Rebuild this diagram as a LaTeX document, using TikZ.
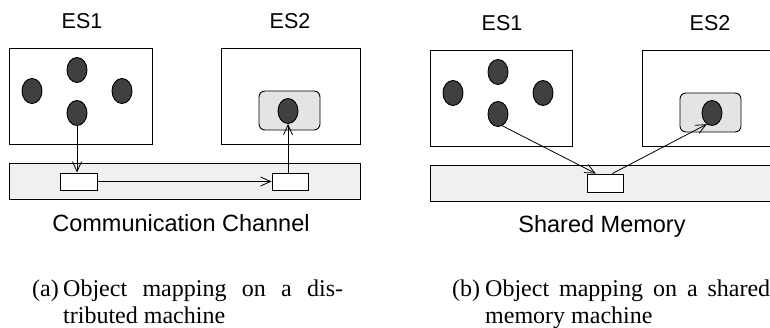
\documentclass[tikz,border=0pt]{standalone}
\usepackage{fontspec}
\setmainfont{Liberation Serif}
\setsansfont{Liberation Sans}
\usetikzlibrary{arrows.meta,calc,shapes.geometric}

\definecolor{barfill}{HTML}{F0F0F0}
\definecolor{groupfill}{HTML}{E4E4E4}
\definecolor{objfill}{HTML}{404040}

\tikzset{
  sysbox/.style={draw=black, line width=0.9pt, inner sep=0pt, fill=white},
  barbox/.style={draw=black, line width=0.9pt, inner sep=0pt, fill=barfill,
                 minimum height=36pt},
  slot/.style={draw=black, line width=0.9pt, inner sep=0pt, fill=white,
               minimum width=36pt, minimum height=17pt},
  grp/.style={draw=black, line width=0.9pt, inner sep=0pt, fill=groupfill,
              rounded corners=6pt, minimum width=61pt, minimum height=39pt},
  obj/.style={ellipse, draw=black, line width=0.9pt, fill=objfill,
              inner sep=0pt, minimum width=20pt, minimum height=25pt},
  link/.style={line width=0.8pt, -{Straight Barb[length=10pt,width=9pt,line width=0.8pt]}},
  head/.style={font=\sffamily\fontsize{21.5}{25}\selectfont, anchor=base, inner sep=0pt},
  mem/.style={font=\sffamily\fontsize{23.5}{27}\selectfont, anchor=base, inner sep=0pt},
  captext/.style={font=\fontsize{24}{28}\selectfont, anchor=base west, inner sep=0pt},
}

\begin{document}
\begin{tikzpicture}[x=1pt,y=-1pt]
\clip (0,0) rectangle (770,328);
\useasboundingbox (0,0) rectangle (770,328);

% ---------- (a) distributed machine ----------
\node[head] (hA1) at (82,29) {ES1};
\node[head] (hA2) at (290,29) {ES2};

\node[sysbox, minimum width=142.5pt, minimum height=96pt] (esA1) at (80.75,96) {};
\node[sysbox, minimum width=139pt, minimum height=96pt] (esA2) at (290.5,96) {};

\node[obj] (a1t) at (77,70) {};
\node[obj] (a1l) at (32,91) {};
\node[obj] (a1r) at (122,91) {};
\node[obj] (a1b) at (77,113) {};

\node[grp] (gA) at (289.5,110.5) {};
\node[obj] (a2) at (288,111) {};

\node[barbox, minimum width=350.5pt] (chan) at (184.75,181) {};
\node[slot, minimum width=37pt] (sL) at (78.5,181.5) {};
\node[slot] (sR) at (290,181.5) {};

\draw[link] (a1b.south) -- (a1b.south |- sL.north);
\draw[link] (sL.east) -- (sR.west);
\draw[link] (a2.south |- sR.north) -- (a2.south);

\node[mem] (chanlbl) at (181,232) {Communication Channel};

\node[captext] (capAl) at (32,296) {(a)};
\node[captext] (capA1) at (63,296) {\makebox[280pt][s]{Object mapping on a dis-}};
\node[captext] (capA2) at (63,323) {tributed machine};

% ---------- (b) shared memory machine ----------
\node[head] (hB1) at (502,31) {ES1};
\node[head] (hB2) at (710,31) {ES2};

\node[sysbox, minimum width=142pt, minimum height=96pt] (esB1) at (501,98) {};
\node[sysbox, minimum width=139pt, minimum height=96pt] (esB2) at (711.5,98) {};

\node[obj] (b1t) at (498,72) {};
\node[obj] (b1l) at (453,93) {};
\node[obj] (b1r) at (543,93) {};
\node[obj] (b1b) at (498,114) {};

\node[grp] (gB) at (710.5,112.5) {};
\node[obj] (b2) at (712,113) {};

\node[barbox, minimum width=350.5pt] (shm) at (605.25,183) {};
\node[slot, minimum height=18pt] (sM) at (605,183) {};

\draw[link] (b1b.-70) -- ($(sM.north west)!0.25!(sM.north east)$);
\draw[link] ($(sM.north west)!0.7!(sM.north east)$) -- (b2.-115);

\node[mem] (shmlbl) at (602,233) {Shared Memory};

\node[captext] (capBl) at (452,296) {(b)};
\node[captext] (capB1) at (485,296) {\makebox[285pt][s]{Object mapping on a shared}};
\node[captext] (capB2) at (485,323) {memory machine};
\end{tikzpicture}
\end{document}
